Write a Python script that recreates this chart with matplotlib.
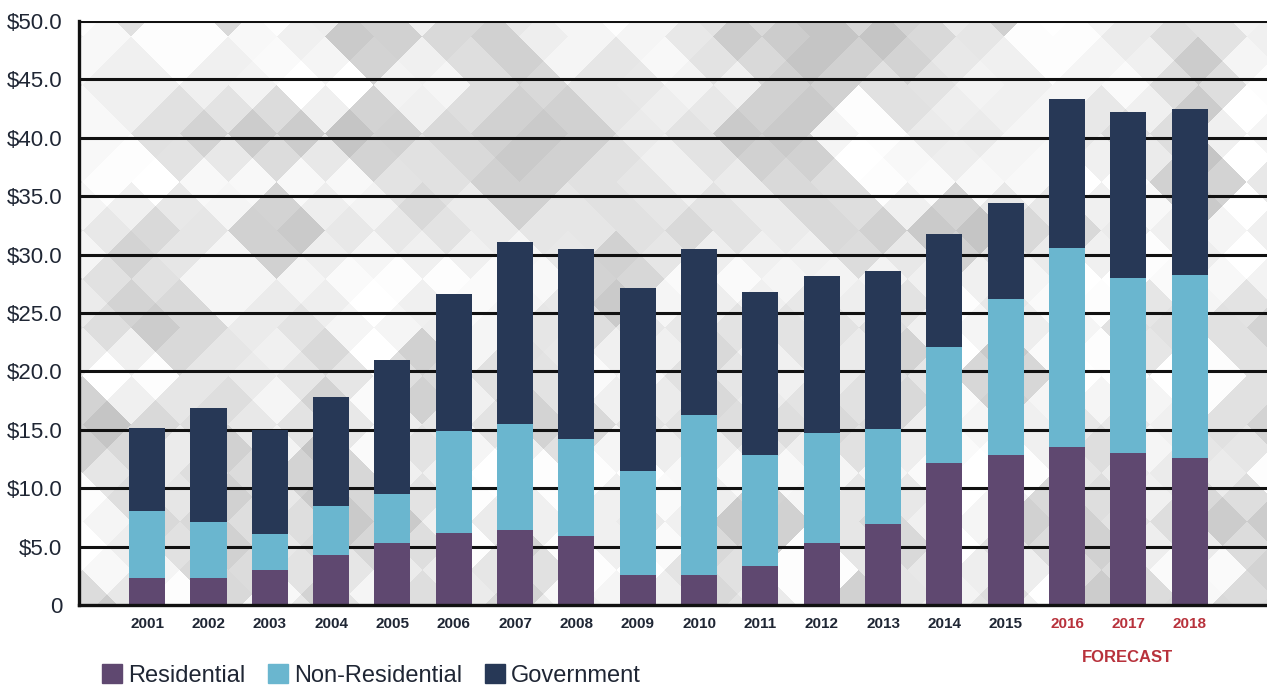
import matplotlib
matplotlib.use('Agg')
import matplotlib.pyplot as plt
import numpy as np
from matplotlib.patches import Patch

plt.rcParams['font.family'] = ['Liberation Sans', 'DejaVu Sans']

# data (billions of dollars)
years = ['2001', '2002', '2003', '2004', '2005', '2006', '2007', '2008', '2009',
         '2010', '2011', '2012', '2013', '2014', '2015', '2016', '2017', '2018']
forecast_years = ['2016', '2017', '2018']
residential = [2.3, 2.3, 3.0, 4.3, 5.3, 6.2, 6.4, 5.9, 2.6,
               2.6, 3.3, 5.3, 6.9, 12.15, 12.8, 13.5, 13.0, 12.6]
non_residential = [5.75, 4.8, 3.1, 4.2, 4.2, 8.7, 9.1, 8.35, 8.9,
                   13.7, 9.5, 9.45, 8.2, 9.95, 13.4, 17.1, 15.0, 15.65]
government = [7.1, 9.8, 8.9, 9.3, 11.5, 11.75, 15.6, 16.25, 15.6,
              14.2, 14.0, 13.45, 13.5, 9.7, 8.2, 12.7, 14.2, 14.25]
y_ticks = [0, 5, 10, 15, 20, 25, 30, 35, 40, 45, 50]
y_labels = ['0', '$5.0', '$10.0', '$15.0', '$20.0', '$25.0', '$30.0',
            '$35.0', '$40.0', '$45.0', '$50.0']

c_res = '#5f4870'
c_nonres = '#6ab6cf'
c_gov = '#273856'
c_text = '#1f2634'
c_red = '#b8323c'

fig = plt.figure(figsize=(12.67, 6.93), dpi=100)
ax = fig.add_axes([79 / 1267, 88 / 693, 1188 / 1267, 584 / 693])

x = np.arange(len(years))
xlim = (-1.11, len(years) - 1 + 1.26)

# diamond background pattern (deterministic hash, decoration only)
H, W = 584, 1188
py, px = np.mgrid[0:H, 0:W]
s = 97.0
u = np.floor((px + py + 30) / s).astype(np.int64)
v = np.floor((px - py + 2000) / s).astype(np.int64)
u2 = np.floor((px + py + 78) / s).astype(np.int64)
v2 = np.floor((px - py + 2048) / s).astype(np.int64)
h = np.abs((u * 73856093) ^ (v * 19349663)) % 9
h2 = np.abs((u2 * 83492791) ^ (v2 * 265443577)) % 6
levels = np.array([0.99, 0.97, 0.96, 0.94, 0.92, 0.90, 0.88, 0.85, 0.82])
shift = np.array([0.0, 0.0, -0.03, 0.02, -0.05, 0.01])
gray = np.clip(levels[h] + shift[h2], 0.75, 1.0)
ax.imshow(gray, cmap='gray', vmin=0, vmax=1, extent=(xlim[0], xlim[1], 0, 50),
          aspect='auto', zorder=0, interpolation='nearest')

for yt in y_ticks[1:]:
    ax.axhline(yt, color='#111111', lw=2.2, zorder=1)

width = 0.59
bottom2 = np.array(residential) + np.array(non_residential)
ax.bar(x, residential, width, color=c_res, zorder=2)
ax.bar(x, non_residential, width, bottom=residential, color=c_nonres, zorder=2)
ax.bar(x, government, width, bottom=bottom2, color=c_gov, zorder=2)

ax.set_xlim(*xlim)
ax.set_ylim(0, 50)
ax.set_yticks(y_ticks)
ax.set_yticklabels(y_labels, fontsize=16, color=c_text)
ax.set_xticks(x)
ax.set_xticklabels(years, fontsize=11, color=c_text, fontweight='bold')
for lbl in ax.get_xticklabels():
    if lbl.get_text() in forecast_years:
        lbl.set_color(c_red)
ax.tick_params(axis='both', length=0)
ax.tick_params(axis='x', pad=9)
ax.tick_params(axis='y', pad=12)

for side in ['top', 'right']:
    ax.spines[side].set_visible(False)
for side in ['left', 'bottom']:
    ax.spines[side].set_color('#111111')
    ax.spines[side].set_linewidth(2.4)
    ax.spines[side].set_zorder(3)

fig.text(1127 / 1267, 1 - 657 / 693, 'FORECAST', ha='center', va='center',
         fontsize=12, color=c_red, fontweight='bold')

handles = [Patch(color=c_res, label='Residential'),
           Patch(color=c_nonres, label='Non-Residential'),
           Patch(color=c_gov, label='Government')]
fig.legend(handles=handles, loc='lower left', bbox_to_anchor=(0.064, -0.022), ncol=3,
           frameon=False, fontsize=17, handlelength=0.85, handleheight=0.85,
           handletextpad=0.25, columnspacing=0.95, labelcolor=c_text)

fig.savefig('out.png', dpi=100)
